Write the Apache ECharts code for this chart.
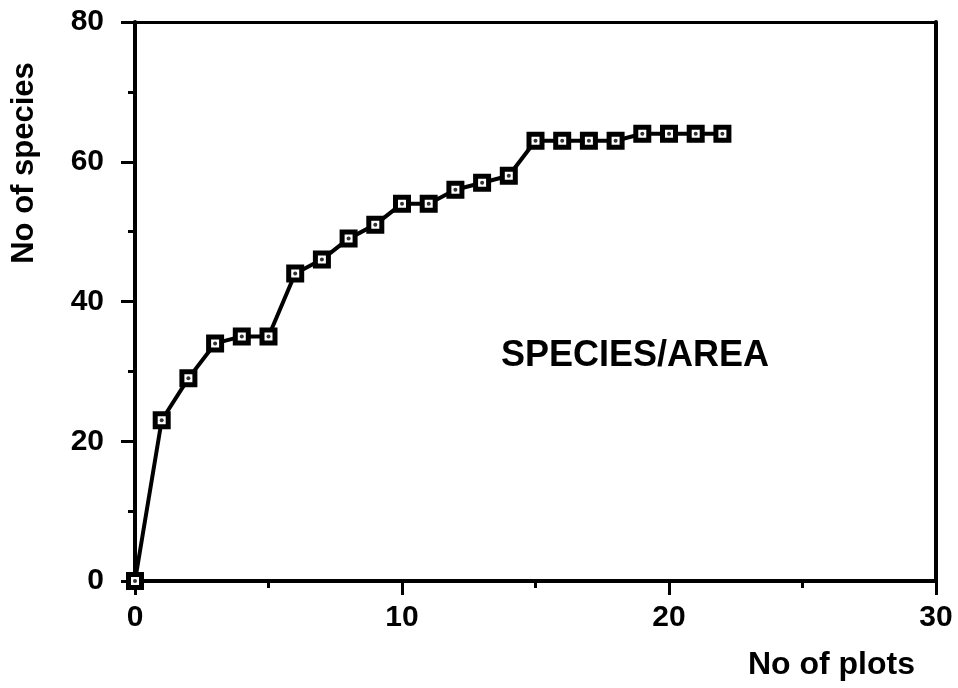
<!DOCTYPE html>
<html>
<head>
<meta charset="utf-8">
<script src="https://cdn.jsdelivr.net/npm/echarts@6/dist/echarts.min.js"></script>
<style>
html,body{margin:0;padding:0;background:#fff;}
#c{width:958px;height:688px;}
</style>
</head>
<body>
<div id="c"></div>
<script>
var plots = [0,1,2,3,4,5,6,7,8,9,10,11,12,13,14,15,16,17,18,19,20,21,22];
var species = [0,23,29,34,35,35,44,46,49,51,54,54,56,57,58,63,63,63,63,64,64,64,64];
var xTicks = [0,10,20,30];
var yTicks = [0,20,40,60,80];
var xTitle = 'No of plots';
var yTitle = 'No of species';
var annotation = 'SPECIES/AREA';

var FONT = '"Liberation Sans", Arial, Helvetica, sans-serif';
var pts = plots.map(function(x,i){return [x, species[i]];});

var chart = echarts.init(document.getElementById('c'));
chart.setOption({
  backgroundColor:'#fff',
  animation:false,
  grid:{left:135,right:22,top:22,bottom:107,containLabel:false},
  xAxis:[{
    type:'value',min:0,max:30,interval:10,position:'bottom',
    axisLine:{show:true,onZero:false,lineStyle:{color:'#000',width:4}},
    axisTick:{show:true,inside:false,length:14,lineStyle:{color:'#000',width:3}},
    minorTick:{show:true,splitNumber:2,length:7,lineStyle:{color:'#000',width:3}},
    splitLine:{show:false},
    axisLabel:{margin:22,color:'#000',fontFamily:FONT,fontWeight:'bold',fontSize:30,
      formatter:function(v){return xTicks.indexOf(v)>=0?String(v):'';}}
  },{
    type:'value',min:0,max:30,position:'top',
    axisLine:{show:true,onZero:false,lineStyle:{color:'#000',width:3}},
    axisTick:{show:false},axisLabel:{show:false},splitLine:{show:false}
  }],
  yAxis:[{
    type:'value',min:0,max:80,interval:20,position:'left',
    axisLine:{show:true,onZero:false,lineStyle:{color:'#000',width:4}},
    axisTick:{show:true,inside:false,length:14,lineStyle:{color:'#000',width:3}},
    minorTick:{show:true,splitNumber:2,length:7,lineStyle:{color:'#000',width:3}},
    splitLine:{show:false},
    axisLabel:{margin:31,color:'#000',fontFamily:FONT,fontWeight:'bold',fontSize:30,
      formatter:function(v){return yTicks.indexOf(v)>=0?String(v):'';}}
  },{
    type:'value',min:0,max:80,position:'right',
    axisLine:{show:true,onZero:false,lineStyle:{color:'#000',width:4}},
    axisTick:{show:false},axisLabel:{show:false},splitLine:{show:false}
  }],
  series:[{
    type:'line',data:pts,clip:false,
    lineStyle:{color:'#000',width:4},
    symbol:'rect',symbolSize:13,
    itemStyle:{color:'#fff',borderColor:'#000',borderWidth:5},
    z:3
  },{
    type:'scatter',data:pts,clip:false,
    symbol:'circle',symbolSize:4,
    itemStyle:{color:'#000'},
    z:4
  }],
  graphic:[{
    type:'text',
    x:24,y:163,rotation:Math.PI/2,
    style:{text:yTitle,fill:'#000',font:'bold 31px '+FONT,textAlign:'center',textVerticalAlign:'middle'}
  },{
    type:'text',
    x:915,y:665,
    style:{text:xTitle,fill:'#000',font:'bold 32px '+FONT,textAlign:'right',textVerticalAlign:'middle'}
  },{
    type:'text',
    x:635,y:356,
    style:{text:annotation,fill:'#000',font:'bold 36px '+FONT,textAlign:'center',textVerticalAlign:'middle'}
  }]
});
</script>
</body>
</html>
